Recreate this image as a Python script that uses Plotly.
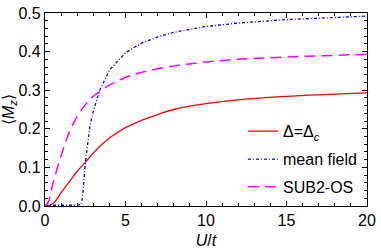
import plotly.graph_objects as go

# Δ = Δc
red_x = [0, 0.3, 0.6, 1.0, 1.5, 2.0, 2.5, 3.0, 3.5, 4.0, 5.0, 6.0, 7.0, 8.0, 10.0, 12.0, 15.0, 20.0]
red_y = [0, 0.002, 0.01, 0.035, 0.062, 0.09, 0.113, 0.137, 0.158, 0.176, 0.203, 0.222, 0.237, 0.25, 0.265, 0.275, 0.284, 0.293]

# mean field
blue_x = [0, 1.0, 2.0, 2.25, 2.35, 2.5, 2.8, 3.0, 3.4, 4.0, 5.0, 6.0, 7.0, 8.0, 10.0, 12.0, 15.0, 20.0]
blue_y = [0.002, 0.002, 0.002, 0.004, 0.03, 0.11, 0.21, 0.245, 0.3, 0.352, 0.397, 0.422, 0.438, 0.45, 0.465, 0.474, 0.483, 0.492]

# SUB2-OS
mag_x = [0, 0.2, 0.5, 1.0, 1.5, 2.0, 2.5, 3.0, 4.0, 5.0, 6.0, 8.0, 10.0, 12.0, 15.0, 20.0]
mag_y = [0, 0.01, 0.06, 0.13, 0.19, 0.232, 0.262, 0.284, 0.313, 0.333, 0.346, 0.363, 0.373, 0.38, 0.386, 0.393]

x_ticks = [0, 5, 10, 15, 20]
y_ticks = [0, 0.1, 0.2, 0.3, 0.4, 0.5]

names = ["Δ=Δ<sub><i>c</i></sub>", "mean field", "SUB2-OS"]

FONT = "Liberation Sans, Arial, Helvetica, sans-serif"

fig = go.Figure()
fig.add_trace(go.Scatter(x=red_x, y=red_y, mode="lines", name=names[0], legendgroup="a",
                         line=dict(color="#ff0000", width=1.3, shape="spline")))
fig.add_trace(go.Scatter(x=blue_x, y=blue_y, mode="lines", name=names[1], legendgroup="b",
                         line=dict(color="#0000ff", width=1.3, dash="3px,2px,1px,2px")))
fig.add_trace(go.Scatter(x=mag_x, y=mag_y, mode="lines", name=names[2], legendgroup="c",
                         line=dict(color="#ff00ff", width=1.5, dash="11px,6px", shape="spline")))

axis_common = dict(
    showline=True, linecolor="black", linewidth=1.2, mirror="allticks",
    ticks="inside", ticklen=5, tickwidth=1, tickcolor="black",
    showgrid=False, zeroline=False, ticklabeloverflow="allow",
    tickfont=dict(size=16, color="black", family=FONT),
)

fig.update_xaxes(range=[0, 20], tickvals=x_ticks,
                 minor=dict(ticks="inside", ticklen=3, dtick=1, tickcolor="black", showgrid=False),
                 title=dict(text="<i>U</i>/<i>t</i>", font=dict(size=16, color="black", family=FONT), standoff=6),
                 **axis_common)
fig.update_yaxes(range=[0, 0.5], tickvals=y_ticks, tickformat=".1f",
                 minor=dict(ticks="inside", ticklen=3, dtick=0.02, tickcolor="black", showgrid=False),
                 title=dict(text="⟨<i>M</i><sub><i>z</i></sub>⟩", font=dict(size=16, color="black", family=FONT), standoff=2),
                 **axis_common)

fig.update_layout(
    width=381, height=251,
    margin=dict(l=44, r=9, t=5, b=44),
    paper_bgcolor="white", plot_bgcolor="white",
    font=dict(family=FONT, color="black"),
    legend=dict(x=0.615, y=0.475, xanchor="left", yanchor="top",
                bgcolor="rgba(0,0,0,0)", font=dict(size=16, color="black", family=FONT),
                tracegroupgap=4, itemwidth=30),
)

fig.write_html("out.html", config={"displayModeBar": False},
               post_script="document.body.style.margin='0';document.body.style.padding='0';")
